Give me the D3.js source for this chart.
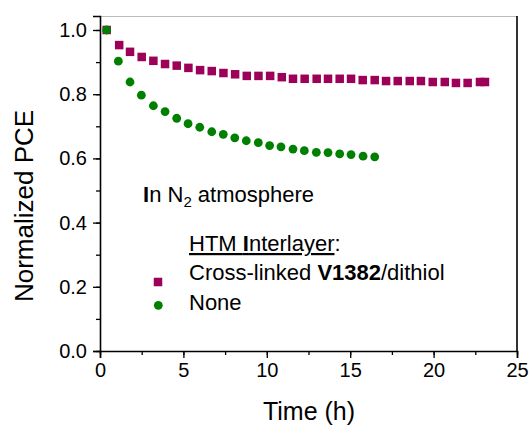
<!DOCTYPE html>
<html>
<head>
<meta charset="utf-8">
<script src="https://cdn.jsdelivr.net/npm/d3@7"></script>
<style>
  body { margin: 0; background: #fff; }
  text { font-family: "Liberation Sans", Arial, sans-serif; fill: #000; }
</style>
</head>
<body>
<div id="vis"></div>
<script>
// cross-linked V1382/dithiol interlayer
const linkedTime = [0.4, 1.15, 1.8, 2.5, 3.2, 3.9, 4.6, 5.3, 6.0, 6.7, 7.4, 8.1, 8.8, 9.5, 10.2, 10.9,
  11.57, 12.27, 12.99, 13.67, 14.37, 15.05, 15.75, 16.47, 17.15, 17.85, 18.57, 19.24, 19.95, 20.67,
  21.34, 22.04, 22.78, 23.08];
const linkedPCE = [1.0, 0.953, 0.932, 0.916, 0.904, 0.894, 0.889, 0.882, 0.875, 0.872, 0.866, 0.862,
  0.857, 0.857, 0.857, 0.853, 0.848, 0.848, 0.848, 0.848, 0.848, 0.848, 0.844, 0.844, 0.841, 0.841,
  0.841, 0.841, 0.838, 0.838, 0.835, 0.835, 0.838, 0.838];
// no interlayer
const noneTime = [0.4, 1.1, 1.8, 2.48, 3.2, 3.9, 4.6, 5.28, 5.98, 6.7, 7.39, 8.08, 8.77, 9.49, 10.17,
  10.85, 11.57, 12.25, 12.97, 13.67, 14.37, 15.05, 15.77, 16.47];
const nonePCE = [1.0, 0.903, 0.838, 0.797, 0.764, 0.746, 0.725, 0.708, 0.697, 0.683, 0.675, 0.664,
  0.655, 0.649, 0.640, 0.636, 0.629, 0.624, 0.619, 0.618, 0.614, 0.612, 0.607, 0.605];

const xTicks = [0, 5, 10, 15, 20, 25];
const yTicks = [0.0, 0.2, 0.4, 0.6, 0.8, 1.0];

const width = 532, height = 425;
const mLeft = 100, mRight = 517, mTop = 16, mBottom = 351;

const svg = d3.select("#vis").append("svg")
    .attr("width", width)
    .attr("height", height);

const x = d3.scaleLinear().domain([0, 25]).range([mLeft, mRight]);
const y = d3.scaleLinear().domain([0, 1.0436]).range([mBottom, mTop]);

// frame: top + right
svg.append("line").attr("x1", mLeft).attr("x2", mRight).attr("y1", mTop + 0.5).attr("y2", mTop + 0.5)
    .attr("stroke", "#bbb").attr("stroke-width", 1);
svg.append("line").attr("x1", mRight).attr("x2", mRight).attr("y1", mTop).attr("y2", mBottom)
    .attr("stroke", "#000").attr("stroke-width", 1.6);

// minor ticks
const xAxis = svg.append("g").attr("transform", "translate(0," + mBottom + ")");
xAxis.call(d3.axisBottom(x).tickValues(d3.range(0, 25.1, 2.5)).tickSize(4).tickFormat(""));
xAxis.call(g => g.selectAll(".domain").remove());
const xMajor = svg.append("g").attr("transform", "translate(0," + mBottom + ")")
    .call(d3.axisBottom(x).tickValues(xTicks).tickSize(7).tickPadding(5).tickFormat(d3.format("d")));

const yAxis = svg.append("g").attr("transform", "translate(" + mLeft + ",0)");
yAxis.call(d3.axisLeft(y).tickValues(d3.range(0, 1.01, 0.1)).tickSize(4).tickFormat(""));
yAxis.call(g => g.selectAll(".domain").remove());
const yMajor = svg.append("g").attr("transform", "translate(" + mLeft + ",0)")
    .call(d3.axisLeft(y).tickValues(yTicks).tickSize(7).tickPadding(6).tickFormat(d3.format(".1f")));

svg.selectAll(".domain").attr("stroke-width", 1.6);
svg.selectAll(".tick line").attr("stroke-width", 1.3);
xMajor.selectAll("text").style("font-size", "20px").style("font-family", "Liberation Sans, Arial");
yMajor.selectAll("text").style("font-size", "20px").style("font-family", "Liberation Sans, Arial");

// axis titles
svg.append("text").attr("x", 309).attr("y", 420)
    .attr("text-anchor", "middle").style("font-size", "25px").text("Time (h)");
svg.append("text").attr("transform", "translate(33,206) rotate(-90)")
    .attr("text-anchor", "middle").style("font-size", "26px").text("Normalized PCE");

// data
const sq = 8.5;
svg.append("g").selectAll("rect")
    .data(linkedTime.map((t, i) => [t, linkedPCE[i]]))
    .join("rect")
    .attr("x", d => x(d[0]) - sq / 2)
    .attr("y", d => y(d[1]) - sq / 2)
    .attr("width", sq).attr("height", sq)
    .attr("fill", "#9c0058");

svg.append("g").selectAll("circle")
    .data(noneTime.map((t, i) => [t, nonePCE[i]]))
    .join("circle")
    .attr("cx", d => x(d[0]))
    .attr("cy", d => y(d[1]))
    .attr("r", 4.4)
    .attr("fill", "#008000");

// annotation
const note = svg.append("text").attr("x", 143).attr("y", 202).style("font-size", "22px");
note.append("tspan").style("font-weight", "bold").text("I");
note.append("tspan").text("n N");
note.append("tspan").attr("dy", 5).style("font-size", "15px").text("2");
note.append("tspan").attr("dy", -5).text(" atmosphere");

// legend
const lt = svg.append("text").attr("x", 189).attr("y", 251).style("font-size", "22px");
lt.append("tspan").style("text-decoration", "underline").text("HTM ");
lt.append("tspan").style("text-decoration", "underline").style("font-weight", "bold").text("I");
lt.append("tspan").style("text-decoration", "underline").text("nterlayer");
lt.append("tspan").text(":");

const l1 = svg.append("text").attr("x", 189).attr("y", 280).style("font-size", "22px");
l1.append("tspan").text("Cross-linked ");
l1.append("tspan").style("font-weight", "bold").text("V1382");
l1.append("tspan").text("/dithiol");

svg.append("text").attr("x", 189).attr("y", 310).style("font-size", "22px").text("None");

svg.append("rect").attr("x", 158 - sq / 2).attr("y", 282 - sq / 2)
    .attr("width", sq).attr("height", sq).attr("fill", "#9c0058");
svg.append("circle").attr("cx", 158.3).attr("cy", 305.3).attr("r", 4.4).attr("fill", "#008000");
</script>
</body>
</html>
